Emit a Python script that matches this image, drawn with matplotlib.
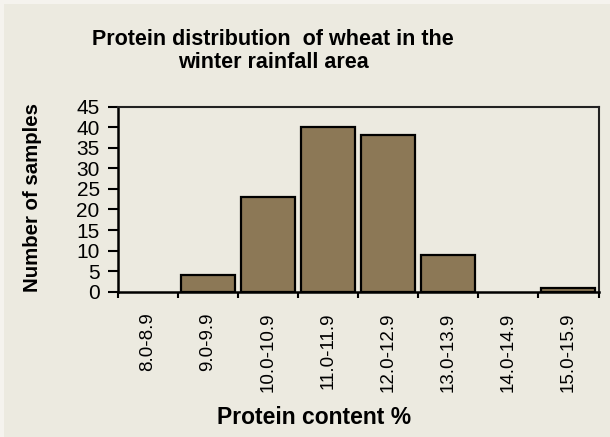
import numpy as np
import matplotlib
matplotlib.use('Agg')
import matplotlib.pyplot as plt
from matplotlib.patches import Rectangle

# data
categories = ['8.0-8.9', '9.0-9.9', '10.0-10.9', '11.0-11.9',
              '12.0-12.9', '13.0-13.9', '14.0-14.9', '15.0-15.9']
samples = [0, 4, 23, 40, 38, 9, 0, 1]
yticks = [0, 5, 10, 15, 20, 25, 30, 35, 40, 45]

plt.rcParams['font.family'] = ['Liberation Sans', 'DejaVu Sans']

bg = '#ECEAE0'
bar_col = '#8C7856'

fig = plt.figure(figsize=(6.10, 4.37), dpi=100)
fig.patch.set_facecolor('#F5F3EE')
fig.patches.append(Rectangle((4/610, 0), 1, (437-4)/437, transform=fig.transFigure,
                             facecolor=bg, edgecolor='none', zorder=-10))

ax = fig.add_axes([117.7/610, 1-291.7/437, (598.5-117.7)/610, (291.7-106.7)/437])
ax.set_facecolor(bg)

x = np.arange(len(categories))
# empty classes get no outline (Excel draws nothing there)
lw = [1.6 if v > 0 else 0 for v in samples]
ax.bar(x, samples, width=0.9, color=bar_col, edgecolor='black', linewidth=lw, zorder=3)

ax.set_xlim(-0.5, len(categories) - 0.5)
ax.set_ylim(0, 45)
ax.set_yticks(yticks)
ax.set_yticklabels([str(v) for v in yticks], fontsize=15)
ax.tick_params(axis='y', direction='out', length=7, width=1.5, pad=6)

# ticks on the category borders, labels in the middle
ax.set_xticks(np.arange(len(categories) + 1) - 0.5)
ax.set_xticklabels([])
ax.tick_params(axis='x', which='major', direction='out', length=4, width=1.5)
ax.set_xticks(x, minor=True)
ax.set_xticklabels(categories, minor=True, rotation=90, fontsize=13.5)
ax.tick_params(axis='x', which='minor', length=0, pad=15)

for s in ['left', 'bottom']:
    ax.spines[s].set_linewidth(1.8)
    ax.spines[s].set_color('black')
for s in ['top', 'right']:
    ax.spines[s].set_linewidth(1.5)
    ax.spines[s].set_color('#222222')

fig.text(273/610, 1-51/437, 'Protein distribution  of wheat in the\nwinter rainfall area',
         ha='center', va='center', fontsize=15.5, fontweight='bold', linespacing=1.15)
fig.text(32.5/610, 1-198/437, 'Number of samples', rotation=90, ha='center', va='center',
         fontsize=14.7, fontweight='bold')
fig.text(314.5/610, 1-418/437, 'Protein content %', ha='center', va='center',
         fontsize=16.5, fontweight='bold')

fig.savefig('out.png', dpi=100, facecolor=fig.get_facecolor())
